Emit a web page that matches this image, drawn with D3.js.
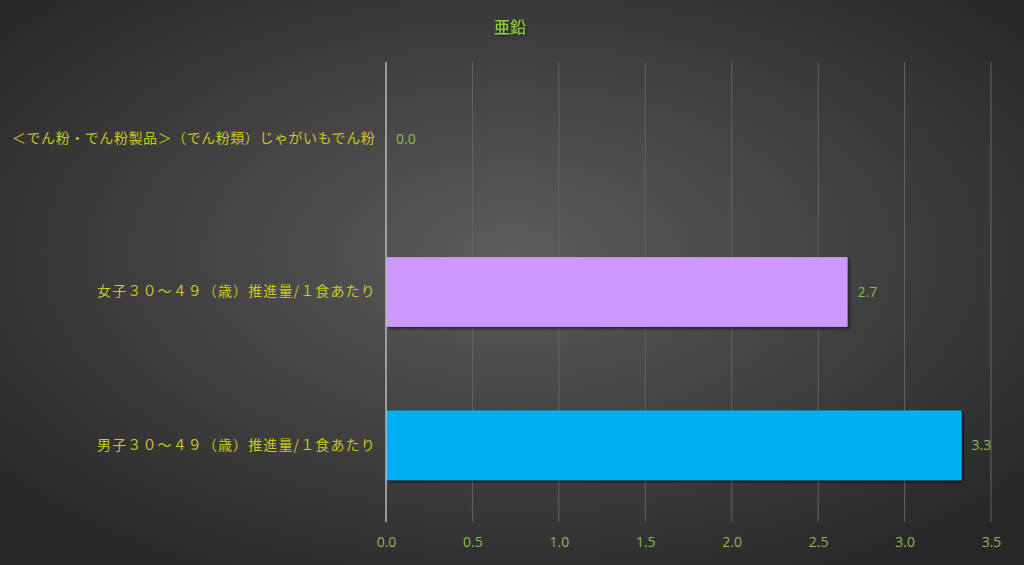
<!DOCTYPE html>
<html>
<head>
<meta charset="utf-8">
<script src="https://cdn.jsdelivr.net/npm/d3@7"></script>
<style>
  html, body { margin: 0; padding: 0; background: #333; }
  svg { display: block; }
</style>
</head>
<body>
<svg id="chart" width="1024" height="565"></svg>
<script>
'use strict';

// data
var title = '亜鉛';
var categories = [
    '＜でん粉・でん粉製品＞（でん粉類）じゃがいもでん粉',
    '女子３０～４９（歳）推進量/１食あたり',
    '男子３０～４９（歳）推進量/１食あたり'
];
var values = [0.0, 2.67, 3.33];
var barColors = ['#4f81bd', '#cc99ff', '#00b0f0'];
var xTicks = [0, 0.5, 1, 1.5, 2, 2.5, 3, 3.5];

var W = 1024, H = 565;
var margin = { top: 62, right: 33, bottom: 43, left: 386 };

var svg = d3.select('#chart');

// background
var defs = svg.append('defs');
var grad = defs.append('radialGradient')
    .attr('id', 'bg')
    .attr('cx', '0.5').attr('cy', '0.45').attr('r', '0.65');
grad.append('stop').attr('offset', '0%').attr('stop-color', '#5c5c5c');
grad.append('stop').attr('offset', '100%').attr('stop-color', '#282828');

var shadow = defs.append('filter').attr('id', 'shadow')
    .attr('x', '-5%').attr('y', '-10%').attr('width', '110%').attr('height', '130%');
shadow.append('feDropShadow')
    .attr('dx', 2).attr('dy', 2).attr('stdDeviation', 1.5)
    .attr('flood-color', '#000').attr('flood-opacity', 0.5);

var tshadow = defs.append('filter').attr('id', 'tshadow');
tshadow.append('feDropShadow')
    .attr('dx', 1).attr('dy', 1).attr('stdDeviation', 0.8)
    .attr('flood-color', '#000').attr('flood-opacity', 0.6);

svg.append('rect').attr('width', W).attr('height', H).attr('fill', 'url(#bg)');

var x = d3.scaleLinear()
    .domain([0, 3.5])
    .range([margin.left, W - margin.right]);

var y = d3.scaleBand()
    .domain(categories)
    .range([margin.top, H - margin.bottom])
    .paddingInner(0.545)
    .paddingOuter(0.2725);

// gridlines
svg.append('g')
    .selectAll('line')
    .data(xTicks.slice(1))
    .join('line')
    .attr('x1', function (d) { return x(d); })
    .attr('x2', function (d) { return x(d); })
    .attr('y1', margin.top)
    .attr('y2', H - margin.bottom)
    .attr('stroke', '#646464')
    .attr('stroke-width', 1);

// bars
svg.append('g')
    .selectAll('rect')
    .data(values)
    .join('rect')
    .attr('x', x(0))
    .attr('y', function (d, i) { return y(categories[i]); })
    .attr('width', function (d) { return x(d) - x(0); })
    .attr('height', y.bandwidth())
    .attr('fill', function (d, i) { return barColors[i]; })
    .attr('filter', 'url(#shadow)');

// zero axis line
svg.append('line')
    .attr('x1', x(0)).attr('x2', x(0))
    .attr('y1', margin.top).attr('y2', H - margin.bottom)
    .attr('stroke', '#b8b8b8')
    .attr('stroke-width', 1.5);

// x axis tick labels
var xAxis = d3.axisBottom(x)
    .tickValues(xTicks)
    .tickFormat(d3.format('.1f'))
    .tickSize(0)
    .tickPadding(0);

var gx = svg.append('g')
    .attr('transform', 'translate(0,' + (H - margin.bottom + 15) + ')')
    .call(xAxis);
gx.select('.domain').remove();
gx.selectAll('text')
    .attr('fill', '#8cbb4c')
    .style('font-family', '"Liberation Sans Narrow", "Open Sans", sans-serif')
    .style('font-size', '14px');

// category labels
var yAxis = d3.axisLeft(y).tickSize(0).tickPadding(11);
var gy = svg.append('g')
    .attr('transform', 'translate(' + x(0) + ',0)')
    .call(yAxis);
gy.select('.domain').remove();
gy.selectAll('text')
    .attr('fill', '#c8c81e')
    .style('font-family', '"Noto Sans CJK JP", sans-serif')
    .style('font-size', '14px')
    .style('letter-spacing', '0.3px')
    .attr('textLength', function (d, i) { return [363, 278, 278][i]; })
    .attr('lengthAdjust', 'spacing');

// value labels
svg.append('g')
    .selectAll('text')
    .data(values)
    .join('text')
    .attr('x', function (d) { return x(d) + 10; })
    .attr('y', function (d, i) { return y(categories[i]) + y.bandwidth() / 2; })
    .attr('dy', '0.35em')
    .attr('fill', '#8cbb4c')
    .style('font-family', '"Open Sans", sans-serif')
    .style('font-size', '14px')
    .text(function (d) { return d3.format('.1f')(d); });

// title
svg.append('text')
    .attr('x', 510)
    .attr('y', 33)
    .attr('text-anchor', 'middle')
    .attr('fill', '#8cc63f')
    .attr('filter', 'url(#tshadow)')
    .style('font-family', '"Noto Sans CJK JP", sans-serif')
    .style('font-size', '16px')
    .style('font-weight', '500')
    .text(title);
</script>
</body>
</html>
